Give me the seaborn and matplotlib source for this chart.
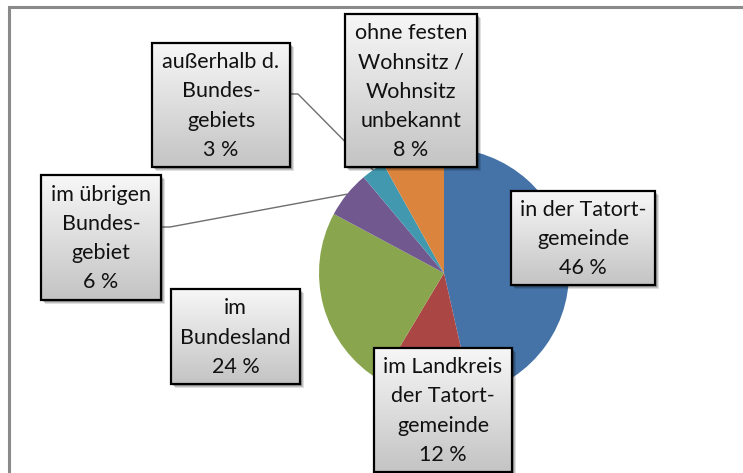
import numpy as np
import seaborn as sns
import matplotlib.pyplot as plt
from matplotlib.patches import Rectangle
from matplotlib.colors import LinearSegmentedColormap

# data
labels = ["in der Tatort-\ngemeinde", "im Landkreis\nder Tatort-\ngemeinde", "im\nBundesland",
          "im übrigen\nBundes-\ngebiet", "außerhalb d.\nBundes-\ngebiets",
          "ohne festen\nWohnsitz /\nWohnsitz\nunbekannt"]
shares = [46, 12, 24, 6, 3, 8]
pct_text = ["46 %", "12 %", "24 %", "6 %", "3 %", "8 %"]
colors = ["#4572A7", "#AA4643", "#89A54E", "#71588F", "#4198AF", "#DB843D"]

sns.set_theme(style="white")
plt.rcParams['font.family'] = ['Lato', 'DejaVu Sans']

W, H = 743, 473
fig = plt.figure(figsize=(W / 100, H / 100), dpi=100)

# pie, centre and radius in pixels
cx, cy, R = 444, 273, 125
ax = fig.add_axes([(cx - R) / W, (H - cy - R) / H, 2 * R / W, 2 * R / H])
wedges, _ = ax.pie(shares, colors=sns.color_palette(colors), startangle=90, counterclock=False,
                   wedgeprops=dict(linewidth=0))
ax.set_xlim(-1, 1)
ax.set_ylim(-1, 1)
ax.axis('off')

# overlay in pixel coordinates for labels
ov = fig.add_axes([0, 0, 1, 1], zorder=5)
ov.set_xlim(0, W)
ov.set_ylim(H, 0)
ov.axis('off')
ov.patch.set_alpha(0)

# outer chart frame
ov.plot([9, 9, W + 5], [H + 5, 7, 7], color="#8a8a8a", lw=2.2, solid_joinstyle='miter')

# label boxes (x0, y0, x1, y1)
boxes = [(511, 191, 655, 285), (374, 348, 512, 472), (171, 289, 300, 384),
         (41, 175, 161, 300), (152, 43, 290, 167), (345, 14, 477, 167)]

def pie_point(w):
    t = np.deg2rad((w.theta1 + w.theta2) / 2)
    return cx + R * np.cos(t), cy - R * np.sin(t)

# leader lines
px, py = pie_point(wedges[4])
ov.plot([290, 298, px], [94, 94, py], color="#6e6e6e", lw=1, zorder=1)
px, py = pie_point(wedges[3])
ov.plot([161, 170, px], [227, 227, py], color="#6e6e6e", lw=1, zorder=1)

grad_cmap = LinearSegmentedColormap.from_list("g", ["#f7f7f7", "#c4c4c4"])
grad = np.linspace(0, 1, 64).reshape(-1, 1)

for (x0, y0, x1, y1), lab, pct in zip(boxes, labels, pct_text):
    for k, a in [(4, 0.12), (3, 0.15), (2, 0.2)]:
        ov.add_patch(Rectangle((x0 + k, y0 + k), x1 - x0, y1 - y0, facecolor="black",
                               edgecolor="none", alpha=a, zorder=2))
    ov.imshow(grad, extent=(x0, x1, y1, y0), cmap=grad_cmap, aspect='auto', zorder=3,
              interpolation='bilinear')
    ov.add_patch(Rectangle((x0, y0), x1 - x0, y1 - y0, facecolor="none",
                           edgecolor="black", lw=1.6, zorder=4))
    ov.text((x0 + x1) / 2, (y0 + y1) / 2 + 1, lab + "\n" + pct, ha="center", va="center",
            fontsize=15.5, linespacing=1.58, color="#111111", zorder=5)

ov.set_xlim(0, W)
ov.set_ylim(H, 0)

fig.savefig("out.png", dpi=100)
